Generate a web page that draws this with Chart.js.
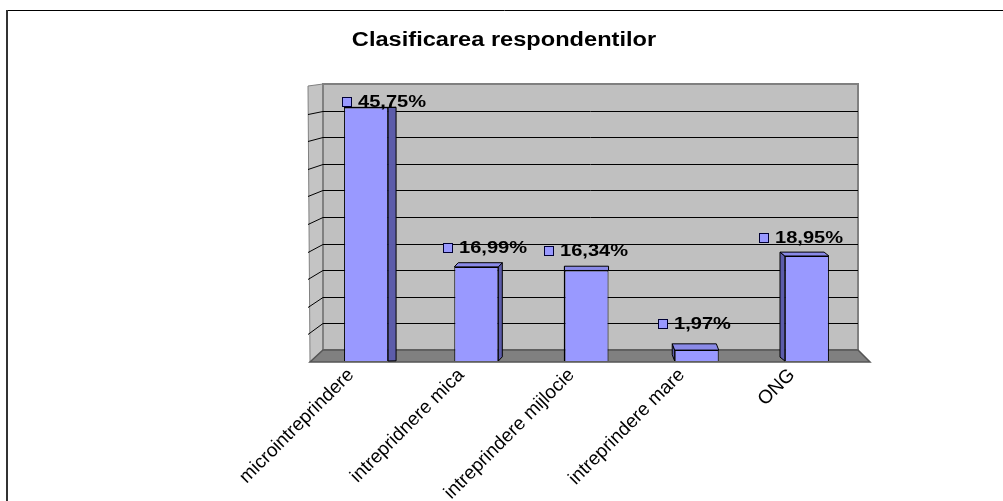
<!DOCTYPE html>
<html>
<head>
<meta charset="utf-8">
<script src="https://cdn.jsdelivr.net/npm/chart.js@4.4.0/dist/chart.umd.min.js"></script>
<style>
html, body { margin: 0; padding: 0; background: #fff; overflow: hidden; }
#wrap { width: 1003px; height: 501px; }
</style>
</head>
<body>
<div id="wrap"><canvas id="myChart" width="1003" height="501"></canvas></div>
<script>
// chart data
var chartTitle = 'Clasificarea respondentilor';
var categories = ['microintreprindere', 'intrepridnere mica', 'intreprindere mijlocie', 'intreprindere mare', 'ONG'];
var values = [45.75, 16.99, 16.34, 1.97, 18.95];
var valueLabels = ['45,75%', '16,99%', '16,34%', '1,97%', '18,95%'];
var yMin = 0, yMax = 50, yStep = 5;

var STRETCH = 1.18; // the picture's text is a bit wider than normal Arial

// walls, floor, gridlines and the depth of each bar (Excel-like 3D look)
var box3d = {
  id: 'box3d',
  beforeDatasetsDraw: function (chart) {
    var ctx = chart.ctx, a = chart.chartArea, ys = chart.scales.y;
    var bl = a.left + 12, br = a.right - 4;
    var wallTop = a.top, wallBot = a.bottom - 11;
    var fl = a.left - 1, fr = a.right + 8, fb = a.bottom + 1;
    var sideX = a.left - 3;
    var backY = function (v) {
      return a.top + (ys.getPixelForValue(v) - a.top) * (wallBot - a.top) / (a.bottom - a.top);
    };
    ctx.save();
    // side wall
    ctx.beginPath();
    ctx.moveTo(sideX, wallTop + 2);
    ctx.lineTo(bl, wallTop);
    ctx.lineTo(bl, wallBot);
    ctx.lineTo(fl, fb);
    ctx.closePath();
    ctx.fillStyle = '#c4c4c4';
    ctx.fill();
    ctx.strokeStyle = '#808080';
    ctx.lineWidth = 1;
    ctx.stroke();
    // back wall
    ctx.fillStyle = '#c0c0c0';
    ctx.fillRect(bl, wallTop, br - bl, wallBot - wallTop);
    ctx.strokeStyle = '#808080';
    ctx.lineWidth = 2;
    ctx.strokeRect(bl, wallTop, br - bl, wallBot - wallTop);
    // gridlines
    ctx.strokeStyle = '#000';
    ctx.lineWidth = 1;
    for (var v = yMin + yStep; v < yMax; v += yStep) {
      var yb = Math.round(backY(v)) + 0.5;
      var yf = wallTop + 2 + (yb - wallTop) * (fb - wallTop - 2) / (wallBot - wallTop);
      ctx.beginPath();
      ctx.moveTo(bl, yb);
      ctx.lineTo(br, yb);
      ctx.moveTo(bl, yb);
      ctx.lineTo(sideX, yf);
      ctx.stroke();
    }
    // floor
    ctx.beginPath();
    ctx.moveTo(bl, wallBot);
    ctx.lineTo(br, wallBot);
    ctx.lineTo(fr, fb);
    ctx.lineTo(fl, fb);
    ctx.closePath();
    ctx.fillStyle = '#808080';
    ctx.fill();
    ctx.strokeStyle = '#555';
    ctx.lineWidth = 1.5;
    ctx.stroke();

    // bar depth
    var cx = (a.left + a.right) / 2;
    chart.getDatasetMeta(0).data.forEach(function (bar) {
      var p = bar.getProps(['x', 'y', 'base', 'width'], true);
      var l = p.x - p.width / 2, r = p.x + p.width / 2;
      var dx = (cx - p.x) * (p.x < cx ? 0.036 : 0.022);
      var dy = Math.max(0, p.y - 100) * 0.025;
      ctx.lineWidth = 1;
      ctx.strokeStyle = '#000';
      var e = dx > 0 ? r : l;
      ctx.beginPath();
      ctx.moveTo(e, p.y);
      ctx.lineTo(e + dx, p.y - dy);
      ctx.lineTo(e + dx, p.base - dy);
      ctx.lineTo(e, p.base);
      ctx.closePath();
      ctx.fillStyle = '#5c5caa';
      ctx.fill();
      ctx.stroke();
      ctx.beginPath();
      ctx.moveTo(l, p.y);
      ctx.lineTo(l + dx, p.y - dy);
      ctx.lineTo(r + dx, p.y - dy);
      ctx.lineTo(r, p.y);
      ctx.closePath();
      ctx.fillStyle = '#8a8ae8';
      ctx.fill();
      ctx.stroke();
    });
    ctx.restore();
  },
  afterDatasetsDraw: function (chart) {
    var ctx = chart.ctx, a = chart.chartArea;
    var cx = (a.left + a.right) / 2;
    ctx.save();
    ctx.font = 'bold 17px "Liberation Sans", Arial, sans-serif';
    ctx.textBaseline = 'middle';
    ctx.textAlign = 'left';
    chart.getDatasetMeta(0).data.forEach(function (bar, i) {
      var p = bar.getProps(['x', 'y'], true);
      var txt = valueLabels[i];
      var off = 27 - values[i] * 0.47;
      var cy = Math.round(p.y - off);
      var shift = (cx - p.x) * (p.x < cx ? 0.08 : 0.025);
      var w = ctx.measureText(txt).width * STRETCH;
      var sx = Math.round(p.x + shift - (16 + w) / 2);
      ctx.fillStyle = '#9999ff';
      ctx.fillRect(sx, cy - 5, 10, 10);
      ctx.strokeStyle = '#000033';
      ctx.lineWidth = 1;
      ctx.strokeRect(sx + 0.5, cy - 4.5, 9, 9);
      ctx.save();
      ctx.translate(sx + 16, cy);
      ctx.scale(STRETCH, 1);
      ctx.fillStyle = '#000';
      ctx.fillText(txt, 0, 0);
      ctx.restore();
    });
    ctx.restore();
  },
  afterDraw: function (chart) {
    var ctx = chart.ctx;
    ctx.save();
    // frame
    ctx.strokeStyle = '#000';
    ctx.lineWidth = 1;
    ctx.beginPath();
    ctx.moveTo(6, 10.5);
    ctx.lineTo(1003, 10.5);
    ctx.stroke();
    ctx.strokeStyle = '#333';
    ctx.lineWidth = 2;
    ctx.beginPath();
    ctx.moveTo(7, 10);
    ctx.lineTo(7, 501);
    ctx.stroke();
    // title
    ctx.font = 'bold 20px "Liberation Sans", Arial, sans-serif';
    ctx.textAlign = 'center';
    ctx.textBaseline = 'alphabetic';
    ctx.fillStyle = '#000';
    ctx.translate(504, 46);
    ctx.scale(STRETCH, 1);
    ctx.fillText(chartTitle, 0, 0);
    ctx.restore();
  }
};

var ctx = document.getElementById('myChart').getContext('2d');
var chart = new Chart(ctx, {
  type: 'bar',
  data: {
    labels: categories,
    datasets: [{
      data: values,
      backgroundColor: '#9999ff',
      borderColor: '#000',
      borderWidth: 1,
      categoryPercentage: 1,
      barPercentage: 0.4
    }]
  },
  options: {
    responsive: false,
    animation: false,
    devicePixelRatio: 1,
    layout: { padding: { left: 311, right: 141, top: 84, bottom: 0 } },
    plugins: {
      legend: { display: false },
      tooltip: { enabled: false },
      title: { display: false }
    },
    scales: {
      x: {
        offset: true,
        grid: { display: false, drawTicks: false },
        border: { display: false },
        ticks: {
          autoSkip: false,
          minRotation: 45,
          maxRotation: 45,
          padding: 3,
          labelOffset: -15,
          color: '#000',
          font: { family: '"Liberation Sans", Arial, sans-serif', size: 19 }
        },
        afterFit: function (s) { s.height = 140; }
      },
      y: {
        display: false,
        min: yMin,
        max: yMax,
        ticks: { stepSize: yStep }
      }
    }
  },
  plugins: [box3d]
});
</script>
</body>
</html>
